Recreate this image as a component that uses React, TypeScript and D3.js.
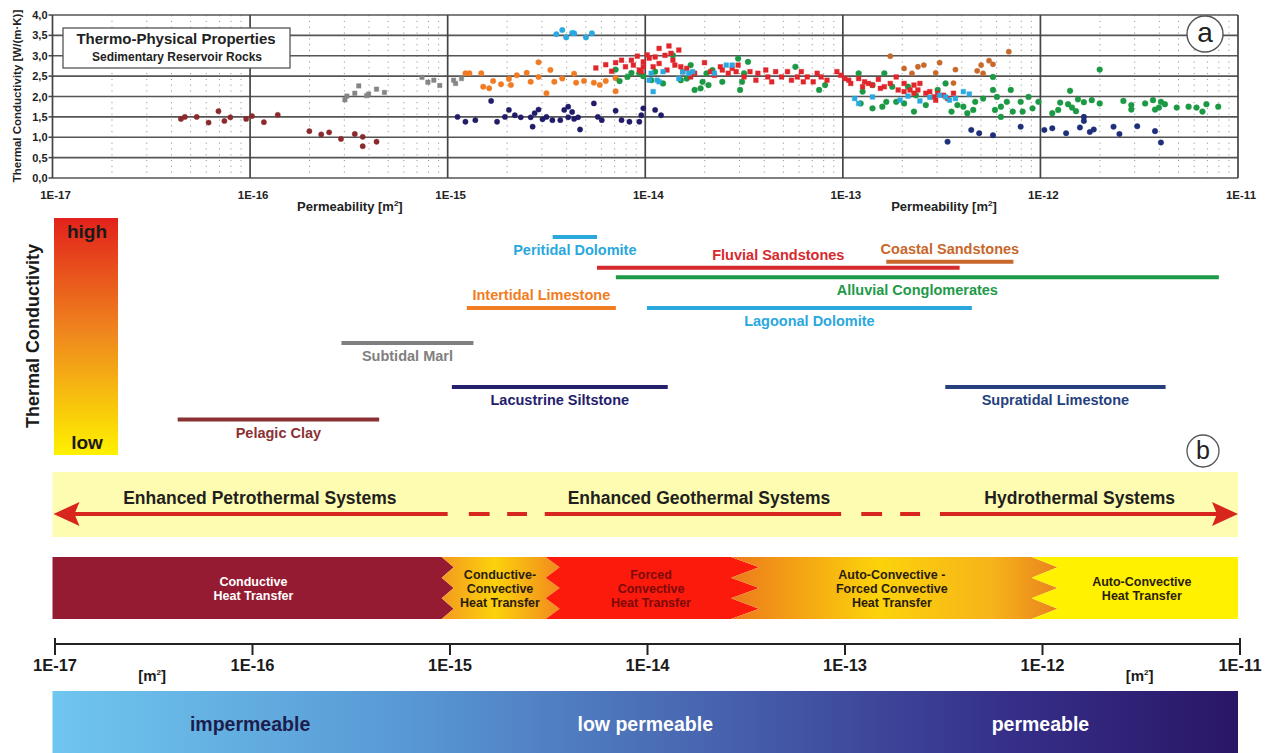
import * as d3 from "d3";

const FONT = "'Liberation Sans', Arial, Helvetica, sans-serif";

// panel a – samples: [log10 permeability (m²), thermal conductivity W/(m·K)]
const pelagicClay = [
  [-16.35, 1.45], [-16.33, 1.5], [-16.27, 1.5], [-16.21, 1.36], [-16.16, 1.64], [-16.13, 1.4],
  [-16.1, 1.49], [-16.02, 1.45], [-15.99, 1.52], [-15.93, 1.37], [-15.86, 1.55], [-15.7, 1.15],
  [-15.64, 1.07], [-15.6, 1.12], [-15.54, 0.96], [-15.47, 1.08], [-15.43, 1.01], [-15.43, 0.78],
  [-15.36, 0.89],
];
const subtidalMarl = [
  [-15.52, 1.92], [-15.51, 2.01], [-15.47, 2.08], [-15.45, 2.26], [-15.41, 2.02], [-15.4, 2.06],
  [-15.36, 2.18], [-15.32, 2.1], [-15.13, 2.47], [-15.1, 2.35], [-15.07, 2.4], [-15.04, 2.27],
  [-14.97, 2.4], [-14.96, 2.32], [-14.93, 2.44],
];
const intertidalLimestone = [
  [-14.91, 2.57], [-14.89, 2.57], [-14.83, 2.57], [-14.82, 2.24], [-14.79, 2.2], [-14.77, 2.38],
  [-14.73, 2.3], [-14.69, 2.43], [-14.68, 2.28], [-14.65, 2.52], [-14.6, 2.58], [-14.58, 2.36],
  [-14.54, 2.84], [-14.54, 2.48], [-14.5, 2.08], [-14.48, 2.65], [-14.46, 2.36], [-14.42, 2.44],
  [-14.36, 2.56], [-14.35, 2.34], [-14.31, 2.38], [-14.26, 2.34], [-14.23, 2.28], [-14.2, 2.38],
  [-14.15, 2.13], [-14.15, 2.45],
];
const peritidalDolomite = [
  [-14.45, 3.53], [-14.42, 3.63], [-14.4, 3.45], [-14.37, 3.56], [-14.36, 3.55], [-14.3, 3.45],
  [-14.27, 3.55],
];
const lacustrineSiltstone = [
  [-14.95, 1.5], [-14.91, 1.38], [-14.86, 1.42], [-14.78, 1.89], [-14.75, 1.38], [-14.71, 1.5],
  [-14.69, 1.67], [-14.66, 1.54], [-14.63, 1.49], [-14.58, 1.49], [-14.57, 1.26], [-14.56, 1.59],
  [-14.54, 1.68], [-14.52, 1.44], [-14.5, 1.5], [-14.47, 1.42], [-14.43, 1.42], [-14.41, 1.67],
  [-14.39, 1.75], [-14.39, 1.49], [-14.37, 1.62], [-14.36, 1.45], [-14.34, 1.49], [-14.33, 1.19],
  [-14.26, 1.83], [-14.24, 1.5], [-14.22, 1.42], [-14.15, 1.65], [-14.12, 1.42], [-14.08, 1.38],
  [-14.03, 1.38], [-14.02, 1.54], [-14.01, 1.71], [-13.95, 1.67], [-13.92, 1.54],
];
const alluvialConglomerates = [
  [-14.15, 2.66], [-14.13, 2.38], [-14.09, 2.48], [-14.07, 2.58], [-14.03, 2.57], [-14.01, 2.5],
  [-13.97, 2.4], [-13.95, 2.61], [-13.91, 2.32], [-13.86, 3.01], [-13.82, 2.4], [-13.79, 2.44],
  [-13.77, 2.77], [-13.75, 2.16], [-13.72, 2.2], [-13.71, 2.36], [-13.69, 2.57], [-13.68, 2.28],
  [-13.66, 2.65], [-13.61, 2.36], [-13.53, 2.93], [-13.52, 2.16], [-13.51, 2.36], [-13.48, 2.85],
  [-13.5, 2.57], [-13.24, 2.73], [-13.12, 2.16], [-13.09, 2.28], [-12.92, 2.57], [-12.9, 2.12],
  [-12.91, 1.83], [-12.85, 1.71], [-12.85, 2.28], [-12.8, 1.75], [-12.79, 2.57], [-12.78, 1.87],
  [-12.75, 2.24], [-12.73, 1.87], [-12.69, 1.83], [-12.67, 2.24], [-12.64, 1.63], [-12.63, 2.03],
  [-12.58, 1.79], [-12.52, 2.16], [-12.48, 2.32], [-12.45, 1.63], [-12.42, 1.79], [-12.39, 1.75],
  [-12.37, 1.59], [-12.34, 1.67], [-12.33, 1.87], [-12.29, 1.95], [-12.24, 2.48], [-12.24, 2.16],
  [-12.23, 1.67], [-12.22, 1.99], [-12.2, 1.75], [-12.2, 1.5], [-12.17, 1.87], [-12.15, 2.16],
  [-12.14, 1.63], [-12.1, 1.87], [-12.09, 1.63], [-12.06, 1.99], [-12.04, 1.71], [-12.01, 1.87],
  [-11.94, 1.59], [-11.91, 1.67], [-11.9, 1.85], [-11.86, 1.81], [-11.85, 2.14], [-11.84, 1.73],
  [-11.82, 1.64], [-11.81, 1.93], [-11.78, 1.86], [-11.74, 1.91], [-11.7, 1.83], [-11.7, 2.66],
  [-11.58, 1.89], [-11.54, 1.79], [-11.54, 1.68], [-11.47, 1.83], [-11.43, 1.91], [-11.42, 1.68],
  [-11.4, 1.73], [-11.39, 1.87], [-11.37, 1.81], [-11.31, 1.73], [-11.25, 1.75], [-11.21, 1.73],
  [-11.18, 1.63], [-11.16, 1.81], [-11.1, 1.75],
];
const fluvialSandstones = [
  [-14.25, 2.7], [-14.2, 2.78], [-14.17, 2.62], [-14.15, 2.83], [-14.12, 2.89], [-14.1, 2.73],
  [-14.07, 2.89], [-14.06, 2.77], [-14.04, 2.99], [-14.03, 2.65], [-14.01, 2.73], [-13.99, 3.02],
  [-13.98, 2.94], [-13.96, 2.73], [-14.01, 2.85], [-14.02, 2.61], [-13.93, 3.18], [-13.95, 2.97],
  [-13.93, 2.81], [-13.88, 3.24], [-13.87, 3.06], [-13.9, 3.01], [-13.86, 2.89], [-13.83, 3.14],
  [-13.85, 2.77], [-13.89, 2.65], [-13.82, 2.73], [-13.81, 2.61], [-13.79, 2.69], [-13.77, 2.48],
  [-13.75, 2.57], [-13.7, 2.83], [-13.67, 2.61], [-13.65, 2.52], [-13.61, 2.65], [-13.62, 2.73],
  [-13.58, 2.57], [-13.56, 2.69], [-13.54, 2.61], [-13.53, 2.77], [-13.5, 2.48], [-13.47, 2.61],
  [-13.44, 2.4], [-13.43, 2.57], [-13.39, 2.65], [-13.38, 2.48], [-13.36, 2.36], [-13.34, 2.61],
  [-13.31, 2.48], [-13.28, 2.61], [-13.26, 2.4], [-13.23, 2.48], [-13.21, 2.61], [-13.2, 2.36],
  [-13.18, 2.48], [-13.15, 2.36], [-13.13, 2.57], [-13.11, 2.48], [-13.08, 2.4], [-13.03, 2.61],
  [-13.01, 2.52], [-12.99, 2.44], [-12.97, 2.4], [-12.96, 2.32], [-12.92, 2.44], [-12.89, 2.36],
  [-12.9, 2.24], [-12.87, 2.32], [-12.85, 2.28], [-12.82, 2.42], [-12.81, 2.2], [-12.79, 2.24],
  [-12.76, 2.32], [-12.73, 2.48], [-12.72, 2.16], [-12.69, 2.32], [-12.69, 2.12], [-12.66, 2.16],
  [-12.64, 2.28], [-12.64, 2.08], [-12.61, 2.32], [-12.62, 2.16], [-12.58, 2.08], [-12.56, 2.12],
  [-12.54, 1.99], [-12.53, 1.91], [-12.52, 2.08], [-12.49, 2.03], [-12.47, 1.95], [-12.44, 2.08],
];
const lagoonalDolomite = [
  [-13.98, 2.4], [-13.97, 2.57], [-13.96, 2.12], [-13.94, 2.4], [-13.93, 2.36], [-13.91, 2.61],
  [-13.83, 2.44], [-13.81, 2.6], [-13.78, 2.57], [-13.76, 2.61], [-13.65, 2.57], [-13.59, 2.77],
  [-13.56, 2.77], [-12.94, 1.95], [-12.92, 1.83], [-12.85, 1.99], [-12.71, 1.91], [-12.67, 2.01],
  [-12.61, 1.89], [-12.56, 1.98], [-12.51, 2.03], [-12.48, 1.99], [-12.46, 1.91], [-12.43, 1.95],
  [-12.39, 2.12], [-12.36, 2.06],
];
const coastalSandstones = [
  [-12.76, 2.99], [-12.69, 2.69], [-12.65, 2.57], [-12.62, 2.73], [-12.59, 2.77], [-12.51, 2.83],
  [-12.53, 2.58], [-12.44, 2.33], [-12.43, 2.66], [-12.32, 2.63], [-12.3, 2.77], [-12.29, 2.57],
  [-12.26, 2.88], [-12.24, 2.79], [-12.16, 3.1],
];
const supratidalLimestone = [
  [-12.47, 0.89], [-12.35, 1.18], [-12.31, 1.1], [-12.24, 1.05], [-12.1, 1.26], [-11.98, 1.18],
  [-11.94, 1.22], [-11.87, 1.1], [-11.8, 1.24], [-11.78, 1.5], [-11.78, 1.4], [-11.75, 1.13],
  [-11.73, 1.19], [-11.63, 1.26], [-11.6, 1.08], [-11.51, 1.27], [-11.42, 1.15], [-11.39, 0.87],
];

const lambdaTicks = [0, 0.5, 1, 1.5, 2, 2.5, 3, 3.5, 4];

// panel b – permeability range of each rock type, relative conductivity level (0 = low, 1 = high)
const rockNames = [
  "Peritidal Dolomite", "Coastal Sandstones", "Fluvial Sandstones", "Alluvial Conglomerates",
  "Intertidal Limestone", "Lagoonal Dolomite", "Subtidal Marl", "Lacustrine Siltstone",
  "Supratidal Limestone", "Pelagic Clay",
];
const rockKMin = [3.4e-15, 1.66e-13, 5.7e-15, 7.1e-15, 1.25e-15, 1.02e-14, 2.9e-16, 1.05e-15, 3.3e-13, 4.3e-17];
const rockKMax = [5.7e-15, 7.3e-13, 3.9e-13, 8e-12, 7.1e-15, 4.5e-13, 1.35e-15, 1.3e-14, 4.3e-12, 4.5e-16];
const rockLevel = [0.92, 0.815, 0.79, 0.75, 0.62, 0.62, 0.473, 0.287, 0.287, 0.15];
const rockLabelAbove = [false, true, true, false, true, false, false, false, false, false];
const rockColors = [
  "#2aa8de", "#c8672b", "#d6292d", "#1e9a48", "#f27c22", "#2aa8de", "#7f7f7f", "#24206c",
  "#263f7d", "#8a3233",
];

// geothermal system classes
const systemNames = ["Enhanced Petrothermal Systems", "Enhanced Geothermal Systems", "Hydrothermal Systems"];
const systemLabelK = [1.12e-16, 1.87e-14, 1.58e-12];
const arrowSolid = [[1e-17, 1e-15], [3.1e-15, 9.8e-14], [3.1e-13, 1e-11]];
const arrowDashes = [[1.28e-15, 1.63e-15], [2.0e-15, 2.52e-15], [1.24e-13, 1.58e-13], [1.95e-13, 2.46e-13]];

// heat transfer regimes
const heatNames = [
  ["Conductive", "Heat Transfer"],
  ["Conductive-", "Convective", "Heat Transfer"],
  ["Forced", "Convective", "Heat Transfer"],
  ["Auto-Convective -", "Forced Convective", "Heat Transfer"],
  ["Auto-Convective", "Heat Transfer"],
];
const heatBounds = [1e-15, 3.4e-15, 3.2e-14, 1.05e-12];
const heatLabelK = [1.04e-16, 1.84e-15, 1.07e-14, 1.77e-13, 3.26e-12];

// permeability classes
const permClasses = ["impermeable", "low permeable", "permeable"];
const permClassK = [1e-16, 1e-14, 1e-12];

export default function App() {
  const x = d3.scaleLog().domain([1e-17, 1e-11]).range([52.5, 1238]);
  const y = d3.scaleLinear().domain([0, 4]).range([178, 15]);
  const lvl = d3.scaleLinear().domain([0, 1]).range([455, 218]);
  const xb = d3.scaleLog().domain([1e-17, 1e-11]).range([55, 1240]);

  const isMajor = (t) => Math.abs(Math.log10(t) - Math.round(Math.log10(t))) < 1e-6;
  const ticks = x.ticks();
  const majors = ticks.filter(isMajor);
  const minors = ticks.filter((t) => !isMajor(t));
  const expLabel = (t) => `1E${Math.round(Math.log10(t))}`;
  const fmt = (v) => d3.format(".1f")(v).replace(".", ",");

  const series = [
    { data: pelagicClay, color: "#8b2a2c", shape: d3.symbolCircle, size: 22 },
    { data: subtidalMarl, color: "#858585", shape: d3.symbolSquare, size: 20 },
    { data: intertidalLimestone, color: "#f07b22", shape: d3.symbolCircle, size: 24 },
    { data: peritidalDolomite, color: "#29a9e0", shape: d3.symbolCircle, size: 24 },
    { data: lacustrineSiltstone, color: "#201c68", shape: d3.symbolCircle, size: 22 },
    { data: alluvialConglomerates, color: "#1b9944", shape: d3.symbolCircle, size: 26 },
    { data: fluvialSandstones, color: "#e1262b", shape: d3.symbolSquare, size: 22 },
    { data: lagoonalDolomite, color: "#29a9e0", shape: d3.symbolSquare, size: 22 },
    { data: coastalSandstones, color: "#c8692b", shape: d3.symbolCircle, size: 22 },
    { data: supratidalLimestone, color: "#1d2f78", shape: d3.symbolCircle, size: 24 },
  ];

  // heat transfer band polygons with jagged borders
  const hy0 = 557;
  const hy1 = 619;
  const amps = [6, 7, 14, 13];
  const edge = (k, a) =>
    d3.range(7).map((i) => [x(k) + (i % 2 ? a : -a), hy0 + ((hy1 - hy0) * i) / 6]);
  const heatFills = ["#951b32", "url(#gCC)", "#fb1a0c", "url(#gAF)", "#fff100"];
  const heatText = ["#ffffff", "#2b1d0e", "#7d0a0a", "#2b1d0e", "#2b1d0e"];
  const heatPolys = heatNames.map((_, i) => {
    const left = i === 0 ? [[x(1e-17), hy0], [x(1e-17), hy1]] : edge(heatBounds[i - 1], amps[i - 1]);
    const right =
      i === heatNames.length - 1 ? [[x(1e-11), hy1], [x(1e-11), hy0]] : edge(heatBounds[i], amps[i]).reverse();
    return left.concat(right);
  });

  const arrowY = 514;

  return (
    <svg
      width={1271}
      height={753}
      style={{ position: "absolute", left: 0, top: 0, display: "block", background: "#fff" }}
      fontFamily={FONT}
    >
      <defs>
        <linearGradient id="gTC" x1="0" x2="0" y1="0" y2="1">
          <stop offset="0" stopColor="#e2221c" />
          <stop offset="0.5" stopColor="#f08a1d" />
          <stop offset="1" stopColor="#fff100" />
        </linearGradient>
        <linearGradient id="gCC" x1="0" x2="1" y1="0" y2="0">
          <stop offset="0" stopColor="#f39a1f" />
          <stop offset="0.45" stopColor="#fcd20c" />
          <stop offset="1" stopColor="#f28a1e" />
        </linearGradient>
        <linearGradient id="gAF" x1="0" x2="1" y1="0" y2="0">
          <stop offset="0" stopColor="#ec7a1c" />
          <stop offset="0.45" stopColor="#fcd30b" />
          <stop offset="0.8" stopColor="#f6b419" />
          <stop offset="1" stopColor="#ea821e" />
        </linearGradient>
        <linearGradient id="gPerm" x1="0" x2="1" y1="0" y2="0">
          <stop offset="0" stopColor="#6fc6ef" />
          <stop offset="0.3" stopColor="#5898d4" />
          <stop offset="0.55" stopColor="#4865b0" />
          <stop offset="0.8" stopColor="#36308a" />
          <stop offset="1" stopColor="#2a1666" />
        </linearGradient>
      </defs>

      {/* ---------- panel a ---------- */}
      {minors.map((t) => (
        <line key={`mn${t}`} x1={x(t)} x2={x(t)} y1={y(4)} y2={y(0)} stroke="#9a9a9a" strokeWidth={1} strokeDasharray="1.2 4.6" />
      ))}
      {lambdaTicks.map((v) => (
        <line key={`h${v}`} x1={x(1e-17)} x2={x(1e-11)} y1={y(v)} y2={y(v)} stroke="#555" strokeWidth={1.7} />
      ))}
      {majors.map((t) => (
        <line key={`mj${t}`} x1={x(t)} x2={x(t)} y1={y(4)} y2={y(0)} stroke="#444" strokeWidth={1.7} />
      ))}
      {lambdaTicks.map((v) => (
        <g key={`yt${v}`}>
          <line x1={x(1e-17) - 4} x2={x(1e-17)} y1={y(v)} y2={y(v)} stroke="#444" strokeWidth={1.5} />
          <text x={x(1e-17) - 5} y={y(v) + 4} textAnchor="end" fontSize={11} fontWeight="bold" fill="#222">
            {fmt(v)}
          </text>
        </g>
      ))}
      {majors.map((t) => (
        <text key={`xt${t}`} x={x(t) + 3} y={199} textAnchor="middle" fontSize={11.5} fontWeight="bold" fill="#222">
          {expLabel(t)}
        </text>
      ))}
      <text transform="translate(21,96) rotate(-90)" textAnchor="middle" fontSize={11.5} fontWeight="bold" fill="#222">
        Thermal Conductivity [W/(m·K)]
      </text>
      {[3.2e-16, 3.25e-13].map((k) => (
        <text key={`pl${k}`} x={x(k)} y={211} textAnchor="middle" fontSize={13} fontWeight="bold" fill="#222">
          Permeability [m<tspan fontSize={8} dy={-5}>2</tspan>
          <tspan dy={5}>]</tspan>
        </text>
      ))}

      {series.map((s, si) =>
        s.data.map((p, i) => (
          <path
            key={`p${si}-${i}`}
            d={d3.symbol(s.shape, s.size)()}
            transform={`translate(${x(10 ** p[0])},${y(p[1])})`}
            fill={s.color}
            stroke={s.color}
            strokeOpacity={0.4}
            strokeWidth={1}
          />
        ))
      )}

      <rect x={63} y={28} width={227} height={40} fill="#fff" stroke="#555" strokeWidth={1.3} />
      <text x={176} y={44} textAnchor="middle" fontSize={15} fontWeight="bold" fill="#222">
        Thermo-Physical Properties
      </text>
      <text x={177} y={61} textAnchor="middle" fontSize={12} fontWeight="bold" fill="#222">
        Sedimentary Reservoir Rocks
      </text>
      <circle cx={1205} cy={34} r={18} fill="#fff" stroke="#555" strokeWidth={1.4} />
      <text x={1205} y={42} textAnchor="middle" fontSize={28} fill="#222">
        a
      </text>

      {/* ---------- panel b ---------- */}
      <rect x={54} y={218} width={64} height={237} fill="url(#gTC)" />
      <text x={87} y={238} textAnchor="middle" fontSize={19} fontWeight="bold" fill="#1a1a1a">
        high
      </text>
      <text x={87} y={449} textAnchor="middle" fontSize={19} fontWeight="bold" fill="#1a1a1a">
        low
      </text>
      <text transform="translate(39,336) rotate(-90)" textAnchor="middle" fontSize={18} fontWeight="bold" fill="#1a1a1a">
        Thermal Conductivity
      </text>

      {rockNames.map((name, i) => {
        const x0 = x(rockKMin[i]);
        const x1 = x(rockKMax[i]);
        const yy = lvl(rockLevel[i]);
        return (
          <g key={name}>
            <line x1={x0} x2={x1} y1={yy} y2={yy} stroke={rockColors[i]} strokeWidth={4} />
            <text
              x={(x0 + x1) / 2}
              y={yy + (rockLabelAbove[i] ? -13 : 13)}
              dy="0.35em"
              textAnchor="middle"
              fontSize={14.5}
              fontWeight="bold"
              fill={rockColors[i]}
            >
              {name}
            </text>
          </g>
        );
      })}
      <circle cx={1203} cy={451} r={16} fill="#fff" stroke="#555" strokeWidth={1.3} />
      <text x={1203} y={459} textAnchor="middle" fontSize={25} fill="#222">
        b
      </text>

      {/* ---------- systems band ---------- */}
      <rect x={x(1e-17)} y={472} width={x(1e-11) - x(1e-17)} height={65} fill="#fdfcb0" />
      {systemNames.map((n, i) => (
        <text key={n} x={x(systemLabelK[i])} y={504} textAnchor="middle" fontSize={17.5} fontWeight="bold" fill="#231f20">
          {n}
        </text>
      ))}
      {arrowSolid.map(([a, b], i) => (
        <line
          key={`as${i}`}
          x1={x(a) + (i === 0 ? 20 : 0)}
          x2={x(b) - (i === arrowSolid.length - 1 ? 20 : 0)}
          y1={arrowY}
          y2={arrowY}
          stroke="#d8261e"
          strokeWidth={4}
        />
      ))}
      {arrowDashes.map(([a, b], i) => (
        <line key={`ad${i}`} x1={x(a)} x2={x(b)} y1={arrowY} y2={arrowY} stroke="#d8261e" strokeWidth={4} />
      ))}
      <path
        d={`M${x(1e-17) + 1},${arrowY} L${x(1e-17) + 27},${arrowY - 12} L${x(1e-17) + 22},${arrowY} L${x(1e-17) + 27},${arrowY + 12} Z`}
        fill="#d8261e"
      />
      <path
        d={`M${x(1e-11)},${arrowY} L${x(1e-11) - 26},${arrowY - 12} L${x(1e-11) - 21},${arrowY} L${x(1e-11) - 26},${arrowY + 12} Z`}
        fill="#d8261e"
      />

      {/* ---------- heat transfer band ---------- */}
      {heatPolys.map((pts, i) => (
        <polygon key={`hp${i}`} points={pts.map((p) => p.join(",")).join(" ")} fill={heatFills[i]} />
      ))}
      {heatNames.map((lines, i) => {
        const mid = (hy0 + hy1) / 2;
        const lh = 14;
        return (
          <text key={`ht${i}`} textAnchor="middle" fontSize={12.5} fontWeight="bold" fill={heatText[i]}>
            {lines.map((l, j) => (
              <tspan key={j} x={x(heatLabelK[i])} y={mid + (j - (lines.length - 1) / 2) * lh + 4.5}>
                {l}
              </tspan>
            ))}
          </text>
        );
      })}

      {/* ---------- permeability axis ---------- */}
      <line x1={xb(1e-17)} x2={xb(1e-11)} y1={644} y2={644} stroke="#222" strokeWidth={2} />
      {xb.ticks().filter(isMajor).map((t, i, arr) => (
        <g key={`bt${t}`}>
          <line
            x1={xb(t)}
            x2={xb(t)}
            y1={i === 0 || i === arr.length - 1 ? 638 : 644}
            y2={655}
            stroke="#222"
            strokeWidth={2}
          />
          <text x={xb(t)} y={671} textAnchor="middle" fontSize={16.5} fontWeight="bold" fill="#1a1a1a">
            {expLabel(t)}
          </text>
        </g>
      ))}
      {[3.1e-17, 3.1e-12].map((k) => (
        <text key={`bm${k}`} x={xb(k)} y={681} textAnchor="middle" fontSize={15} fontWeight="bold" fill="#1a1a1a">
          [m<tspan fontSize={8} dy={-6}>2</tspan>
          <tspan dy={6}>]</tspan>
        </text>
      ))}

      <rect x={x(1e-17)} y={691} width={x(1e-11) - x(1e-17)} height={62} fill="url(#gPerm)" />
      {permClasses.map((n, i) => (
        <text
          key={n}
          x={x(permClassK[i])}
          y={731}
          textAnchor="middle"
          fontSize={19.5}
          fontWeight="bold"
          fill={i === 0 ? "#1d1d4d" : "#ffffff"}
        >
          {n}
        </text>
      ))}
    </svg>
  );
}
